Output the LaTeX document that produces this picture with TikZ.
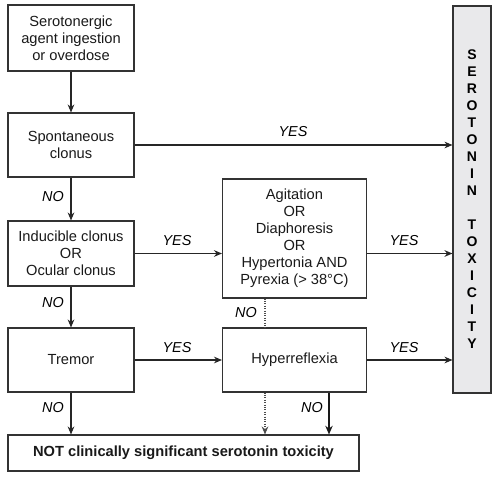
\documentclass[tikz,border=0pt]{standalone}
\usepackage{fontspec}
\setmainfont{Liberation Sans}
\usetikzlibrary{arrows.meta}
\definecolor{toxfill}{HTML}{E9E9EB}
\begin{document}
\begin{tikzpicture}[x=0.75pt,y=-0.75pt,
  box/.style={draw=black!80, line width=0.8pt, align=center, inner sep=0pt, text=black!90,
    font=\fontsize{11}{12.75}\selectfont},
  lab/.style={font=\fontsize{10.8}{12}\selectfont\itshape, inner sep=0pt, text=black},
  arr/.style={-{Stealth[length=6pt,width=5pt]}, line width=0.8pt, draw=black!85},
  thickarr/.style={-{Stealth[length=6.5pt,width=5.5pt]}, line width=1.5pt, draw=black!90},
  dotline/.style={densely dotted, line width=0.8pt, draw=black!70},
  dotarr/.style={dotline, -{Stealth[length=6pt,width=5pt]}}]
\useasboundingbox (0,0) rectangle (500,477);
% boxes
\node[box, minimum width=94.5pt, minimum height=49.5pt] (b1) at (71,38) {Serotonergic\\agent ingestion\\or overdose};
\node[box, minimum width=94.5pt, minimum height=48pt] (b2) at (71,145) {Spontaneous\\clonus};
\node[box, minimum width=94.5pt, minimum height=48.75pt] (b3) at (71,253.5) {Inducible clonus\\OR\\Ocular clonus};
\node[box, minimum width=94.5pt, minimum height=48pt] (b4) at (71,360) {Tremor};
\node[box, minimum width=108pt, minimum height=89.25pt] (ag) at (294.5,238.5) {Agitation\\OR\\Diaphoresis\\OR\\Hypertonia AND\\Pyrexia (> 38°C)};
\node[box, minimum width=108pt, minimum height=48pt] (hy) at (294.5,360) {Hyperreflexia};
\node[box, fill=toxfill, minimum width=28.5pt, minimum height=290.25pt,
  font=\bfseries\fontsize{10.5}{12.75}\selectfont, text=black] (tox) at (472,199.5)
  {S\\E\\R\\O\\T\\O\\N\\I\\N\\[12.75pt]T\\O\\X\\I\\C\\I\\T\\Y};
\node[box, minimum width=263.25pt, minimum height=27pt, font=\bfseries\fontsize{11}{12.75}\selectfont] (bot) at (183.5,453) {NOT clinically significant serotonin toxicity};
% connectors
\draw[arr] (b1) -- (b2);
\draw[arr] (b2.east) -- (b2.east -| tox.west);
\draw[arr] (b2) -- (b3);
\draw[arr] (b3.east) -- (b3.east -| ag.west);
\draw[arr] (b3.east -| ag.east) -- (b3.east -| tox.west);
\draw[arr] (b3) -- (b4);
\draw[arr] (b4) -- (hy);
\draw[arr] (hy) -- (hy -| tox.west);
\draw[arr] (b4.south) -- (b4.south |- bot.north);
\coordinate (d) at (265,0);
\coordinate (t) at (329,0);
\draw[dotline] (d |- ag.south) -- (d |- hy.north);
\draw[dotarr] (d |- hy.south) -- (d |- bot.north);
\draw[thickarr] (t |- hy.south) -- (t |- bot.north);
% labels
\node[lab] (l1) at (293,132) {YES};
\node[lab] (l2) at (53,197) {NO};
\node[lab] (l3) at (177,241) {YES};
\node[lab] (l4) at (404,241) {YES};
\node[lab] (l5) at (53,303) {NO};
\node[lab] (l6) at (246,313) {NO};
\node[lab] (l7) at (177,348) {YES};
\node[lab] (l8) at (404,348) {YES};
\node[lab] (l9) at (53,408) {NO};
\node[lab] (l10) at (312,408) {NO};
\end{tikzpicture}
\end{document}
